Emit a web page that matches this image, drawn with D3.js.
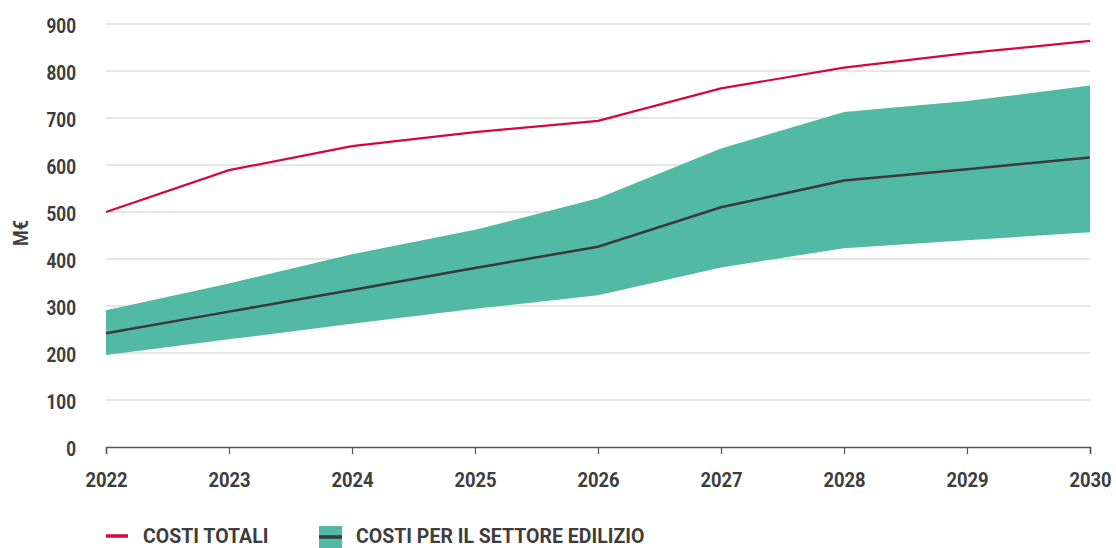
<!DOCTYPE html>
<html><head><meta charset="utf-8">
<script src="https://cdn.jsdelivr.net/npm/d3@7"></script>
<style>body{margin:0;background:#fff;} text{font-family:Roboto,sans-serif;font-weight:700;fill:#3d3d3d;}</style>
</head><body>
<svg id="c" width="1116" height="548"></svg>
<script>
const years = [2022,2023,2024,2025,2026,2027,2028,2029,2030];
const costiTotali = [500,589,640,670,694,763,807,838,864];
const edilizioMid = [242,288,334,381,426,510,567,591,616];
const edilizioHigh = [291,348,410,462,529,635,713,736,769];
const edilizioLow = [196,229,262,294,323,382,423,440,457];
const yTicks = [0,100,200,300,400,500,600,700,800,900];
const legendLabels = ["COSTI TOTALI","COSTI PER IL SETTORE EDILIZIO"];

function condense(sel, f){
  sel.each(function(){
    const L = this.getComputedTextLength();
    this.setAttribute("textLength", L*f);
    this.setAttribute("lengthAdjust","spacingAndGlyphs");
  });
}

const svg = d3.select("#c");
const x = d3.scaleLinear().domain([2022,2030]).range([106,1090]);
const y = d3.scaleLinear().domain([0,900]).range([447,24]);

// gridlines
svg.append("g").selectAll("line").data(yTicks.filter(d=>d>0)).join("line")
  .attr("x1",106).attr("x2",1090).attr("y1",d=>y(d)).attr("y2",d=>y(d))
  .attr("stroke","#d0d0d0").attr("stroke-width",1.2);

// y labels
const yl = svg.append("g").selectAll("text").data(yTicks).join("text")
  .attr("x",76).attr("y",d=>y(d)+9).attr("text-anchor","end")
  .attr("font-size",19.5).text(d=>d);
condense(yl,0.88);

const ml = svg.append("text").attr("transform",`translate(28,233) rotate(-90)`)
  .attr("text-anchor","middle").attr("font-size",19.5).text("M€");
condense(ml,0.92);

// band
const data = years.map((yr,i)=>({yr,lo:edilizioLow[i],hi:edilizioHigh[i],mid:edilizioMid[i],tot:costiTotali[i]}));
svg.append("path").datum(data)
  .attr("d",d3.area().x(d=>x(d.yr)).y0(d=>y(d.lo)).y1(d=>y(d.hi)))
  .attr("fill","#52b9a4");
svg.append("path").datum(data)
  .attr("d",d3.line().x(d=>x(d.yr)).y(d=>y(d.mid)))
  .attr("fill","none").attr("stroke","#3a3a3a").attr("stroke-width",2.5);
svg.append("path").datum(data)
  .attr("d",d3.line().x(d=>x(d.yr)).y(d=>y(d.tot)))
  .attr("fill","none").attr("stroke","#d6073a").attr("stroke-width",2.2);

// x axis
const xa = svg.append("g").attr("transform","translate(0,447)")
  .call(d3.axisBottom(x).tickValues(years).tickFormat(d3.format("d")).tickSize(7));
xa.select(".domain").attr("stroke","#555").attr("stroke-width",1.5);
xa.selectAll(".tick line").attr("stroke","#555").attr("stroke-width",1.2);
const xt = xa.selectAll("text").attr("y",40).attr("dy",0).attr("font-size",20).attr("font-family","Roboto").attr("font-weight",700).attr("fill","#3d3d3d");
condense(xt,0.92);

// legend
const lg = svg.append("g");
lg.append("line").attr("x1",106).attr("x2",128).attr("y1",536).attr("y2",536).attr("stroke","#d6073a").attr("stroke-width",3.5);
lg.append("text").attr("x",143).attr("y",543).attr("font-size",19.5).text(legendLabels[0]);
lg.append("rect").attr("x",319).attr("y",526).attr("width",23).attr("height",22).attr("fill","#52b9a4");
lg.append("line").attr("x1",319).attr("x2",342).attr("y1",537).attr("y2",537).attr("stroke","#3a3a3a").attr("stroke-width",3.5);
lg.append("text").attr("x",356).attr("y",543).attr("font-size",19.5).text(legendLabels[1]);
</script>
</body></html>
